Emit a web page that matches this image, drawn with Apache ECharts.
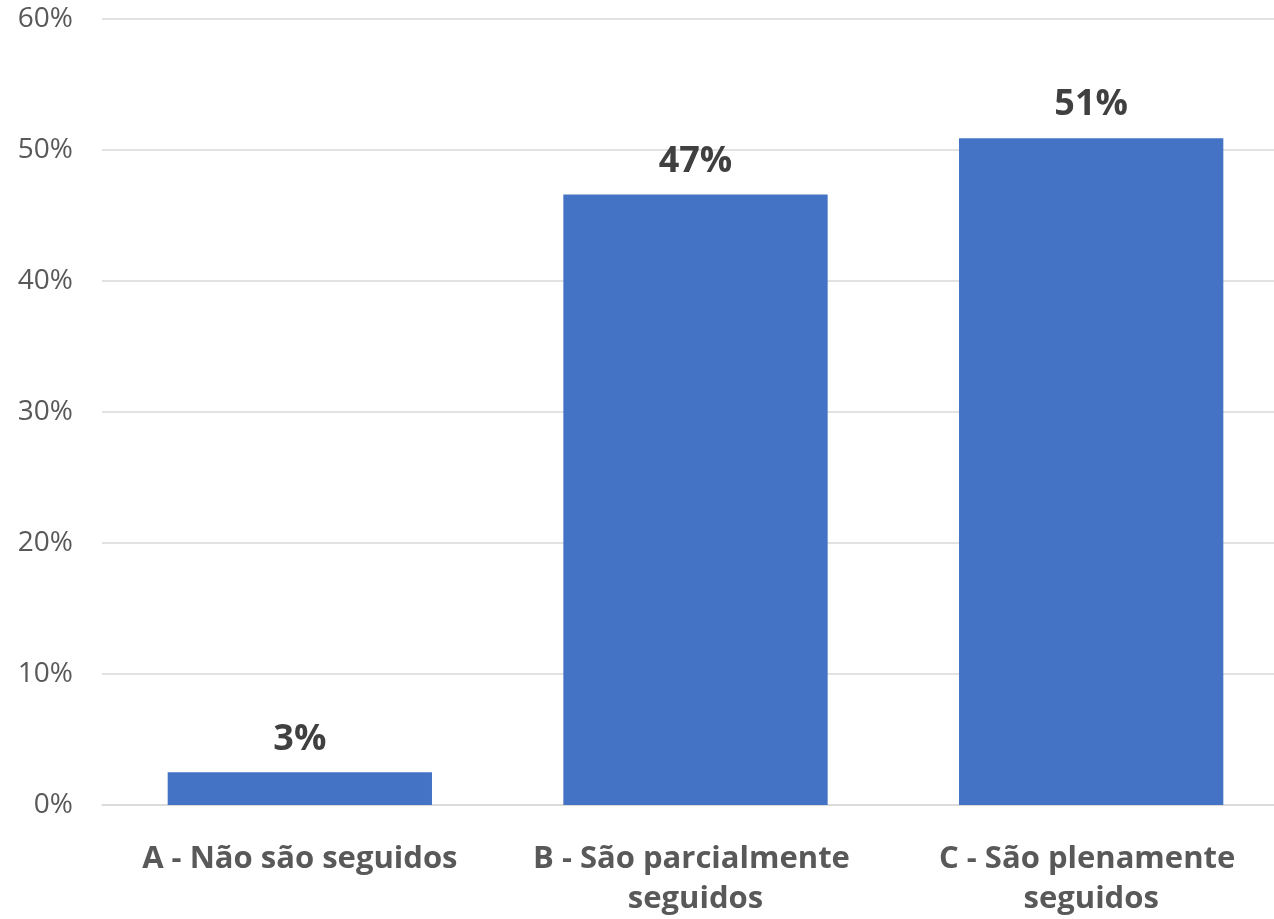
<!DOCTYPE html>
<html>
<head>
<meta charset="utf-8">
<script src="https://cdn.jsdelivr.net/npm/echarts@6/dist/echarts.min.js"></script>
<style>html,body{margin:0;padding:0;background:#fff;overflow:hidden;}#c{width:1274px;height:919px;}</style>
</head>
<body>
<div id="c"></div>
<script>
const categories = ["A - Não são seguidos", "B - São parcialmente seguidos", "C - São plenamente seguidos"];
const values = [2.5, 46.6, 50.9];
const yTicks = [0, 10, 20, 30, 40, 50, 60];

const chart = echarts.init(document.getElementById('c'));
chart.setOption({
  animation: false,
  grid: {left: 102, right: -15, top: 19, bottom: 114, containLabel: false, outerBoundsMode: 'none'},
  xAxis: {
    type: 'category',
    data: categories,
    axisLine: {lineStyle: {color: '#d9d9d9', width: 1.5}},
    axisTick: {show: false},
    axisLabel: {
      interval: 0,
      margin: 34,
      width: 370,
      overflow: 'break',
      fontFamily: 'Open Sans',
      fontWeight: 'bold',
      fontSize: 31,
      lineHeight: 40,
      color: '#595959'
    }
  },
  yAxis: {
    type: 'value',
    min: yTicks[0],
    max: yTicks[yTicks.length - 1],
    interval: 10,
    axisLine: {show: false},
    axisTick: {show: false},
    splitLine: {lineStyle: {color: '#d9d9d9', width: 1.5}},
    axisLabel: {
      formatter: v => v + '%',
      fontFamily: 'Open Sans',
      fontSize: 28,
      color: '#595959',
      margin: 29
    }
  },
  series: [{
    type: 'bar',
    data: values,
    barWidth: '66.8%',
    itemStyle: {color: '#4472c4'},
    label: {
      show: true,
      position: 'top',
      distance: 15,
      formatter: p => Math.round(p.value) + '%',
      fontFamily: 'Open Sans',
      fontWeight: 'bold',
      fontSize: 36,
      color: '#404040'
    }
  }]
});
</script>
</body>
</html>
